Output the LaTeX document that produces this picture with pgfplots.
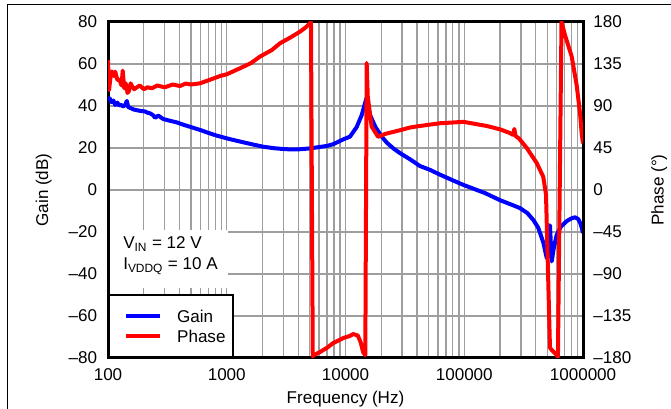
\documentclass[border=0pt]{standalone}
\usepackage{fontspec}
\setmainfont{Liberation Sans}
\usepackage{pgfplots}
\pgfplotsset{compat=1.18}

\newcommand\lbl{\fontsize{12.8}{15}\selectfont}

\begin{document}
\lbl
\begin{tikzpicture}
% gain, left axis
\begin{axis}[
  width=356.25pt, height=252pt, scale only axis,
  xmode=log, xmin=100, xmax=1000000,
  axis line style={line width=2.25pt},
  tick style={draw=none},
  tick label style={font=\lbl},
  label style={font=\lbl},
  ymin=-80, ymax=80,
  ytick={-80,-60,...,80},
  yticklabels={--80,--60,--40,--20,0,20,40,60,80},
  xtick={100,1000,10000,100000,1000000},
  xticklabels={100,1000,10000,100000,1000000},
  minor xtick={200,300,400,500,600,700,800,900,
    2000,3000,4000,5000,6000,7000,8000,9000,
    20000,30000,40000,50000,60000,70000,80000,90000,
    200000,300000,400000,500000,600000,700000,800000,900000},
  xmajorgrids, xminorgrids, ymajorgrids,
  grid style={black!38, line width=1.1pt},
  xticklabel style={anchor=north, inner sep=0pt, yshift=-7.5pt},
  yticklabel style={anchor=east, inner sep=0pt, xshift=-8pt},
  xlabel={Frequency (Hz)},
  xlabel style={at={(axis description cs:0.5,0)}, anchor=north, inner sep=0pt, yshift=-24.75pt},
  ylabel={Gain (dB)},
  ylabel style={at={(axis description cs:-0.1179,0.5)}, anchor=south, inner sep=0pt},
]
\addplot[blue, line width=3pt, line join=round] coordinates {
(100,43.5) (103,43.8) (107,41.8) (111,42.6) (115,40.5) (120,41.6) (124,40.2)
(128,40.6) (134,39.8) (139,40.3) (144,42.4) (148,39.5) (155,39.0) (165,38.3)
(175,38.0) (190,37.6) (205,37.4) (215,36.8) (226,36.5) (240,35.6) (249,34.4)
(265,35.4) (292,33.8) (330,33.0) (379,32.2) (430,31.1) (490,30.1) (596,28.6)
(700,27.2) (822,25.9) (998,24.6) (1180,23.6) (1380,22.7) (1650,21.7) (2030,20.6)
(2500,19.9) (3010,19.5) (3500,19.3) (4130,19.4) (5000,19.8) (6100,20.5) (7000,21.0)
(7880,21.8) (9570,24.1) (10900,25.4) (12400,29.9) (13700,35.7) (14600,41.3)
(15000,43.7) (16080,35.7) (17900,29.9) (20200,25.4) (22400,22.4) (25300,19.8)
(28700,17.6) (35000,14.6) (42400,11.4) (51400,9.6) (62500,7.3) (80000,4.6)
(98500,2.4) (150000,-1.5) (199000,-4.8) (250000,-7.0) (294000,-8.6) (340000,-11.0)
(382000,-14.3) (420000,-18.0) (463000,-25.0) (495000,-32.4) (515000,-31.0)
(527000,-16.8) (545000,-34.0) (570000,-27.0) (600000,-21.5) (650000,-17.5)
(730000,-14.8) (800000,-13.5) (857000,-13.0) (910000,-13.8) (948000,-15.7)
(975000,-18.0) (1000000,-20.5)
};
\fill[white] ([xshift=1.2pt]rel axis cs:0,0.2083) rectangle (rel axis cs:0.2526,0.381);
\node[anchor=base west, inner sep=0pt] at (rel axis cs:0.0316,0.3244) {V\textsubscript{IN} = 12 V};
\node[anchor=base west, inner sep=0pt] at (rel axis cs:0.0316,0.2619) {I\textsubscript{VDDQ} = 10 A};
\end{axis}

% phase, right axis
\begin{axis}[
  width=356.25pt, height=252pt, scale only axis,
  xmode=log, xmin=100, xmax=1000000,
  axis line style={line width=2.25pt},
  tick style={draw=none},
  tick label style={font=\lbl},
  label style={font=\lbl},
  ymin=-180, ymax=180,
  ytick={-180,-135,...,180},
  yticklabels={--180,--135,--90,--45,0,45,90,135,180},
  axis x line=none, axis y line*=right,
  yticklabel style={anchor=west, inner sep=0pt, xshift=7.5pt},
  ylabel={Phase (°)},
  ylabel style={at={(axis description cs:1.1432,0.5)}, anchor=north, inner sep=0pt},
  legend style={at={(rel axis cs:0,0)}, anchor=south west, draw=black,
    line width=1.8pt, fill=white, inner xsep=5.7pt, inner ysep=11pt,
    row sep=5.8pt, column sep=11.25pt, cells={anchor=west},
    nodes={inner sep=0pt, text depth=0pt}, font=\lbl},
  legend image code/.code={\path (0pt,0pt); \draw[#1, line width=3pt] (5.5pt,0pt) -- (31pt,0pt);},
]
\addlegendimage{blue, line width=3pt}
\addlegendentry{Gain}
\addplot[red, line width=3pt, line join=round] coordinates {
(100,139) (102,107) (105,121) (108,127) (112,122) (115,126.8) (120,117.9) (125,118)
(130,112) (133,127.9) (137,109) (141,114.3) (146,104) (150,106) (155,114.3)
(160,111) (166,108) (175,110) (185,112) (200,108) (215,110) (235,109) (260,112)
(300,110) (350,113) (404,111.4) (450,114) (500,113) (596,114.3) (700,117.5)
(878,122.1) (1000,124) (1293,130.4) (1600,136) (1904,142.9) (2400,150) (2803,157.1)
(3500,164) (4130,169.6) (4600,174) (5020,178.6) (5120,180) (5300,-178)
(5460,-176.8) (6100,-173.6) (7000,-169) (7880,-164) (9570,-158.6) (10900,-156.4)
(11600,-154.3) (12700,-156) (13400,-163) (14100,-174) (14680,-177) (15080,136)
(15400,100) (16600,68) (18800,57) (21500,60) (28700,64) (35000,67) (42400,68.6)
(62500,71.5) (98500,73) (154500,68.6) (200000,65) (243000,61) (258000,59)
(264000,65.4) (270000,58) (290000,55) (336000,45) (407000,29) (440000,20)
(463000,14) (488000,-5) (527000,-169) (545000,-171.4) (600000,-176.8) (615000,-179)
(659000,180) (705000,166) (803000,143) (885000,112) (944000,82) (975000,60)
(1000000,50)
};
\addlegendentry{Phase}
\end{axis}

\draw[line width=0.75pt] (-75pt,-45pt) -- (-75pt,264.75pt) -- (430pt,264.75pt);
\pgfresetboundingbox
\path[use as bounding box] (-81pt,-38.25pt) rectangle (422.25pt,268.5pt);
\end{tikzpicture}
\end{document}
